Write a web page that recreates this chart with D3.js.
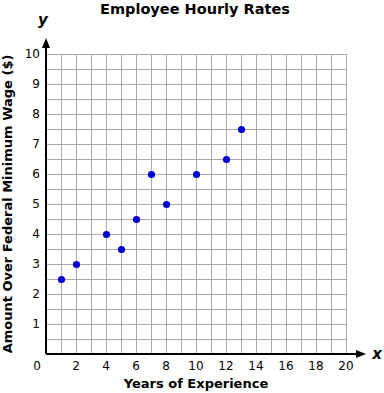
<!DOCTYPE html>
<html>
<head>
<meta charset="utf-8">
<script src="https://cdn.jsdelivr.net/npm/d3@7"></script>
<style>
  body { margin: 0; background: #fff; }
  svg { display: block; font-family: Verdana, "DejaVu Sans", sans-serif; }
</style>
</head>
<body>
<svg id="chart"></svg>
<script>
const years = [1, 2, 4, 5, 6, 7, 8, 10, 12, 13];
const amounts = [2.5, 3, 4, 3.5, 4.5, 6, 5, 6, 6.5, 7.5];
const xTicks = [0, 2, 4, 6, 8, 10, 12, 14, 16, 18, 20];
const yTicks = [1, 2, 3, 4, 5, 6, 7, 8, 9, 10];

const W = 384, H = 393;
const svg = d3.select("#chart").attr("width", W).attr("height", H);

const x = d3.scaleLinear().domain([0, 20]).range([46, 346]);
const y = d3.scaleLinear().domain([0, 10]).range([354, 54]);

// grid
const grid = svg.append("g").attr("stroke", "#aaa").attr("stroke-width", 1);
d3.range(1, 21).forEach(v => {
    grid.append("line")
        .attr("x1", x(v) + 0.5).attr("x2", x(v) + 0.5)
        .attr("y1", y(0)).attr("y2", y(10));
});
d3.range(0.5, 10.01, 0.5).forEach(v => {
    grid.append("line")
        .attr("x1", x(0)).attr("x2", x(20))
        .attr("y1", y(v) + 0.5).attr("y2", y(v) + 0.5);
});

// axes
svg.append("line")
    .attr("x1", x(0)).attr("x2", 360)
    .attr("y1", y(0)).attr("y2", y(0))
    .attr("stroke", "#000").attr("stroke-width", 2);
svg.append("line")
    .attr("x1", x(0)).attr("x2", x(0))
    .attr("y1", y(0)).attr("y2", 44)
    .attr("stroke", "#000").attr("stroke-width", 2);
// arrow heads
svg.append("path")
    .attr("d", `M${x(0) - 4},${48} L${x(0)},${38} L${x(0) + 4},${48} Z`)
    .attr("fill", "#000");
svg.append("path")
    .attr("d", `M${356},${y(0) - 4} L${366},${y(0)} L${356},${y(0) + 4} Z`)
    .attr("fill", "#000");

// tick labels
svg.append("g").selectAll("text").data(xTicks).join("text")
    .attr("x", d => d === 0 ? x(d) - 9 : x(d))
    .attr("y", 370)
    .attr("text-anchor", "middle")
    .attr("font-size", 12)
    .text(d => d);
svg.append("g").selectAll("text").data(yTicks).join("text")
    .attr("x", 40)
    .attr("y", d => y(d) + 4)
    .attr("text-anchor", "end")
    .attr("font-size", 12)
    .text(d => d);

// axis letters
svg.append("text").attr("x", 43).attr("y", 25)
    .attr("text-anchor", "middle").attr("font-size", 15)
    .attr("font-weight", "bold").attr("font-style", "italic").text("y");
svg.append("text").attr("x", 377).attr("y", 359)
    .attr("text-anchor", "middle").attr("font-size", 15)
    .attr("font-weight", "bold").attr("font-style", "italic").text("x");

// titles
svg.append("text").attr("x", 195).attr("y", 14)
    .attr("text-anchor", "middle").attr("font-size", 14.5)
    .attr("font-weight", "bold").text("Employee Hourly Rates");
svg.append("text").attr("x", 196).attr("y", 388)
    .attr("text-anchor", "middle").attr("font-size", 13)
    .attr("font-weight", "bold").text("Years of Experience");
svg.append("text")
    .attr("transform", `translate(12, ${y(5)}) rotate(-90)`)
    .attr("text-anchor", "middle").attr("font-size", 13)
    .attr("font-weight", "bold").text("Amount Over Federal Minimum Wage ($)");

// points
svg.append("g").selectAll("circle").data(years).join("circle")
    .attr("cx", d => x(d) + 0.5)
    .attr("cy", (d, i) => y(amounts[i]) + 0.5)
    .attr("r", 3.6)
    .attr("fill", "#0000d0");
</script>
</body>
</html>
